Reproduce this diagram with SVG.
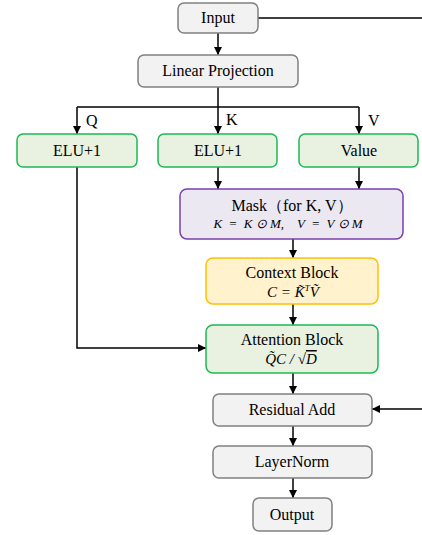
<svg xmlns="http://www.w3.org/2000/svg" width="422" height="535" viewBox="0 0 422 535">
<defs>
<marker id="ah" viewBox="0 0 8 8" refX="8" refY="4" markerWidth="8" markerHeight="8" markerUnits="userSpaceOnUse" orient="auto">
<path d="M0,0 L8,4 L0,8 z" fill="#000"/>
</marker>
<style>
.gray{fill:#F2F2F2;stroke:#808080;stroke-width:1.5}
.green{fill:#E9F1E0;stroke:#1DB954;stroke-width:1.5}
.purple{fill:#ECE8F2;stroke:#7A3FAE;stroke-width:1.5}
.yellow{fill:#FFF2CC;stroke:#FFC000;stroke-width:1.5}
.t{font-family:"Liberation Serif",serif;font-size:16px;fill:#000;text-anchor:middle}
.m{font-family:"Liberation Serif",serif;font-style:italic;font-size:13px;fill:#000;text-anchor:middle}
.m2{font-family:"Liberation Serif",serif;font-style:italic;font-size:15px;fill:#000;text-anchor:middle}
.lbl{font-family:"Liberation Serif",serif;font-size:16px;fill:#000}
.c{fill:none;stroke:#000;stroke-width:1.5}
.ca{fill:none;stroke:#000;stroke-width:1.5;marker-end:url(#ah)}
</style>
</defs>
<g id="connectors">
<path class="c" d="M258,18 H422"/>
<path class="ca" d="M218,33 V55"/>
<path class="c" d="M218,87 V107"/>
<path class="c" d="M77,107 H359"/>
<path class="ca" d="M77,107 V134"/>
<path class="ca" d="M218,107 V134"/>
<path class="ca" d="M359,107 V134"/>
<path class="ca" d="M218,167 V189"/>
<path class="ca" d="M359,167 V189"/>
<path class="ca" d="M293,239 V258"/>
<path class="ca" d="M293,304 V325"/>
<path class="ca" d="M77,167 V348 H206"/>
<path class="ca" d="M293,373 V394"/>
<path class="ca" d="M422,409 H372"/>
<path class="ca" d="M293,426 V446"/>
<path class="ca" d="M293,478 V498"/>
<text class="lbl" x="86" y="126">Q</text>
<text class="lbl" x="226" y="125">K</text>
<text class="lbl" x="368" y="126">V</text>
</g>
<g id="input">
<rect class="gray" x="178" y="3" width="80" height="30" rx="6"/>
<text class="t" x="218" y="23">Input</text>
</g>
<g id="linear">
<rect class="gray" x="138" y="55" width="160" height="32" rx="6"/>
<text class="t" x="218" y="76">Linear Projection</text>
</g>
<g id="elu-q">
<rect class="green" x="17" y="134" width="120" height="33" rx="6"/>
<text class="t" x="77" y="156">ELU+1</text>
</g>
<g id="elu-k">
<rect class="green" x="158" y="134" width="119" height="33" rx="6"/>
<text class="t" x="218" y="156">ELU+1</text>
</g>
<g id="value">
<rect class="green" x="299" y="134" width="119" height="33" rx="6"/>
<text class="t" x="359" y="156">Value</text>
</g>
<g id="mask">
<rect class="purple" x="180" y="189" width="223" height="50" rx="7"/>
<text class="t" x="292" y="211">Mask（for K, V）</text>
<text class="m" x="288" y="228" xml:space="preserve">K  =  K ⊙ M,    V  =  V ⊙ M</text>
</g>
<g id="context">
<rect class="yellow" x="206" y="258" width="172" height="46" rx="7"/>
<text class="t" x="292" y="278">Context Block</text>
<text class="m2" x="293" y="297" xml:space="preserve">C = K̃<tspan font-size="9" dy="-6">T</tspan><tspan dy="6">Ṽ</tspan></text>
</g>
<g id="attention">
<rect class="green" x="206" y="325" width="172" height="48" rx="7"/>
<text class="t" x="292" y="345">Attention Block</text>
<text class="m2" x="291" y="364">Q̃C / √<tspan text-decoration="overline">D</tspan></text>
</g>
<g id="residual">
<rect class="gray" x="213" y="394" width="159" height="32" rx="6"/>
<text class="t" x="292" y="415">Residual Add</text>
</g>
<g id="layernorm">
<rect class="gray" x="213" y="446" width="159" height="32" rx="6"/>
<text class="t" x="292" y="467">LayerNorm</text>
</g>
<g id="output">
<rect class="gray" x="253" y="498" width="79" height="33" rx="6"/>
<text class="t" x="292" y="520">Output</text>
</g>
</svg>
